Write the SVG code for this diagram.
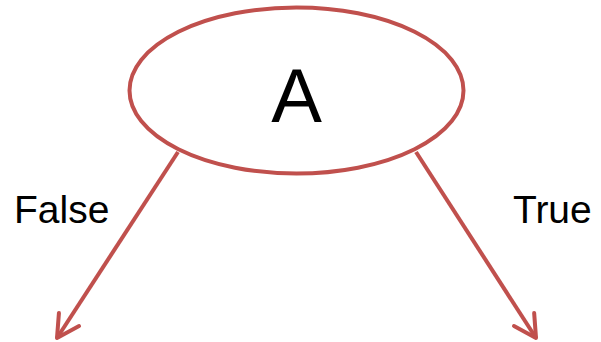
<svg xmlns="http://www.w3.org/2000/svg" width="601" height="342" viewBox="0 0 601 342">
<style>
.edge{fill:none;stroke:#C0504D;stroke-width:4}
.node{fill:#fff;stroke:#C0504D;stroke-width:4}
.lbl{font-family:"Liberation Sans",Arial,sans-serif;fill:#000}
</style>
<defs>
<marker id="arr" markerUnits="userSpaceOnUse" markerWidth="40" markerHeight="40" refX="0" refY="0" orient="auto" overflow="visible">
<path d="M-22,-12 L0,0 L-22,12" fill="none" stroke="#C0504D" stroke-width="4" stroke-linejoin="round" stroke-linecap="round"/>
</marker>
</defs>
<rect width="601" height="342" fill="#fff"/>
<g id="edges">
<line class="edge" x1="178" y1="152" x2="57" y2="338" marker-end="url(#arr)"/>
<line class="edge" x1="416" y1="152" x2="536" y2="338" marker-end="url(#arr)"/>
</g>
<g id="nodeA">
<ellipse class="node" cx="296.5" cy="90.5" rx="167" ry="83"/>
<text class="lbl" x="296.5" y="122" font-size="76" text-anchor="middle">A</text>
</g>
<g id="labels">
<text class="lbl" x="14" y="223" font-size="39">False</text>
<text class="lbl" x="513" y="223" font-size="39">True</text>
</g>
</svg>
